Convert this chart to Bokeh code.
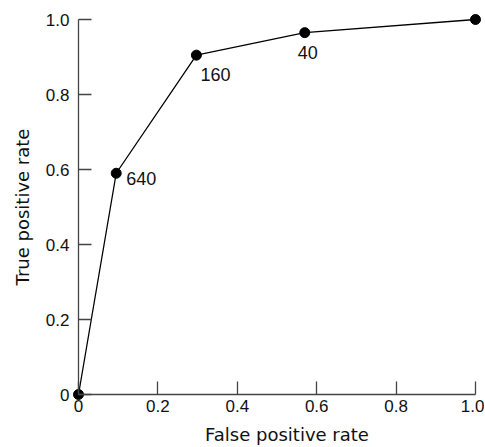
from bokeh.plotting import figure
from bokeh.models import Range1d, FixedTicker, Label
from bokeh.embed import file_html
from bokeh.resources import INLINE

# Data
fpr = [0.0, 0.095, 0.297, 0.57, 1.0]
tpr = [0.0, 0.59, 0.905, 0.965, 1.0]
point_labels = ["", "640", "160", "40", ""]
tick_values = [0.0, 0.2, 0.4, 0.6, 0.8, 1.0]
tick_text = {0: "0", 0.2: "0.2", 0.4: "0.4", 0.6: "0.6", 0.8: "0.8", 1: "1.0"}
x_title = "False positive rate"
y_title = "True positive rate"

FONT = "Liberation Sans"
TITLE_FONT = "DejaVu Sans"

p = figure(
    frame_width=484, frame_height=445,
    x_range=Range1d(-0.1965, 1.0227), y_range=Range1d(-0.136, 1.0507),
    output_backend="svg", toolbar_location=None,
    min_border=0,
)
p.outline_line_color = None
p.grid.visible = False
p.background_fill_color = "white"
p.border_fill_color = "white"

for ax in (p.xaxis[0], p.yaxis[0]):
    ax.fixed_location = 0
    ax.bounds = (0, 1)
    ax.ticker = FixedTicker(ticks=tick_values)
    ax.major_label_overrides = tick_text
    ax.minor_tick_line_color = None
    ax.major_tick_in = 13
    ax.major_tick_out = 0
    ax.axis_line_color = "#444444"
    ax.major_tick_line_color = "#444444"
    ax.axis_line_width = 1.3
    ax.major_tick_line_width = 1.3
    ax.major_label_text_font = FONT
    ax.major_label_text_font_size = "17px"
    ax.major_label_text_color = "#111111"
    ax.axis_label_text_font = TITLE_FONT
    ax.axis_label_text_font_size = "18px"
    ax.axis_label_text_font_style = "normal"
    ax.axis_label_text_color = "#111111"

p.yaxis.axis_label = y_title
p.xaxis.major_label_standoff = 5
p.yaxis.major_label_standoff = 9
p.yaxis.axis_label_standoff = 10

# x-axis title, placed under the axis (slightly right of centre as in the source)
p.add_layout(Label(x=0.5, y=0, text=x_title, x_offset=10, y_offset=-40,
                   text_align="center", text_baseline="middle",
                   text_font=TITLE_FONT, text_font_size="18px", text_color="#111111"))

p.line(fpr, tpr, line_color="black", line_width=1.3)
p.scatter(fpr, tpr, size=10, fill_color="black", line_color="black")

offsets = {1: (10, -12), 2: (4, -26), 3: (-7, -26)}
for i, (dx, dy) in offsets.items():
    p.add_layout(Label(x=fpr[i], y=tpr[i], text=point_labels[i], x_offset=dx, y_offset=dy,
                       text_font=FONT, text_font_size="18px", text_color="#111111",
                       text_baseline="bottom"))

open("out.html", "w").write(file_html(p, INLINE))
